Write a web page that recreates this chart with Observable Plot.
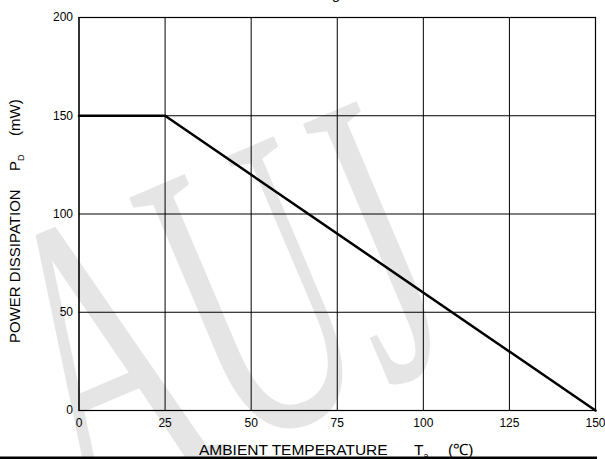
<!DOCTYPE html>
<html>
<head>
<meta charset="utf-8">
<script src="https://cdn.jsdelivr.net/npm/d3@7"></script>
<script src="https://cdn.jsdelivr.net/npm/@observablehq/plot@0.6"></script>
<style>
  html, body { margin: 0; padding: 0; background: white; }
  svg { display: block; }
</style>
</head>
<body>
<div id="chart"></div>
<script>
// Data
const temperature = [0, 25, 150];          // ambient temperature Ta (°C)
const powerDissipation = [150, 150, 0];    // PD (mW)
const xTicks = [0, 25, 50, 75, 100, 125, 150];
const yTicks = [0, 50, 100, 150, 200];
const watermark = ["AUJ"];
const titleText = "Power Derating";
const xLabel = ["AMBIENT TEMPERATURE", "T", "a", "(℃)"];
const yLabel = ["POWER DISSIPATION", "P", "D", "(mW)"];

const curve = temperature.map((t, i) => ({t, p: powerDissipation[i]}));
const font = "'Liberation Sans', Arial, sans-serif";

const svg = Plot.plot({
  width: 605,
  height: 459,
  marginLeft: 78.5,
  marginRight: 10,
  marginTop: 17,
  marginBottom: 49,
  style: {fontFamily: font, fontSize: "12px", color: "black", background: "white", overflow: "hidden"},
  x: {domain: [0, 150], label: null},
  y: {domain: [0, 200], label: null},
  marks: [
    Plot.text(watermark, {
      text: d => d, frameAnchor: "top-left", dx: 142, dy: 294,
      rotate: -23, fontSize: 420, fontFamily: "'Liberation Serif', 'Times New Roman', serif",
      fill: "#e5e5e5", textAnchor: "middle", lineAnchor: "middle"
    }),
    Plot.gridX(xTicks, {stroke: "black", strokeOpacity: 1, strokeWidth: 1}),
    Plot.gridY(yTicks, {stroke: "black", strokeOpacity: 1, strokeWidth: 1}),
    Plot.frame({stroke: "black", strokeWidth: 1.2}),
    Plot.line(curve, {x: "t", y: "p", stroke: "black", strokeWidth: 2.5}),
    Plot.axisX(xTicks, {tickSize: 0, tickPadding: 8, fontSize: 12, label: null}),
    Plot.axisY(yTicks, {tickSize: 0, tickPadding: 6, fontSize: 12, label: null})
  ]
});

const s = d3.select(svg);
// narrow the watermark lettering
s.selectAll('g[aria-label="text"] text').each(function() {
  const t = d3.select(this);
  t.attr("transform", (t.attr("transform") || "") + " scale(0.55,1)");
});

// x-axis label
const xl = s.append("text").attr("x", 199).attr("y", 455).attr("text-anchor", "start")
  .attr("font-family", font).attr("font-size", 15.5).attr("fill", "black");
xl.append("tspan").attr("x", 199).text(xLabel[0]);
xl.append("tspan").attr("x", 414).text(xLabel[1]);
xl.append("tspan").attr("dy", 4).attr("font-size", 9).text(xLabel[2]);
xl.append("tspan").attr("x", 448).attr("dy", -4).text(xLabel[3]);

// y-axis label
const yl = s.append("text").attr("transform", "translate(20,343) rotate(-90)").attr("text-anchor", "start")
  .attr("font-family", font).attr("font-size", 15).attr("fill", "black");
yl.append("tspan").attr("x", 0).text(yLabel[0]);
yl.append("tspan").attr("x", 172).text(yLabel[1]);
yl.append("tspan").attr("dy", 4).attr("font-size", 9).text(yLabel[2]);
yl.append("tspan").attr("x", 207).attr("dy", -4).text(yLabel[3]);

// title (mostly cut off at the top)
s.append("text").attr("x", 340).attr("y", -1).attr("text-anchor", "end")
  .attr("font-family", font).attr("font-size", 15).attr("fill", "black").text(titleText);

// bottom rule
s.append("rect").attr("x", 0).attr("y", 456.5).attr("width", 597).attr("height", 2.5).attr("fill", "black");

document.getElementById("chart").appendChild(svg);
</script>
</body>
</html>
